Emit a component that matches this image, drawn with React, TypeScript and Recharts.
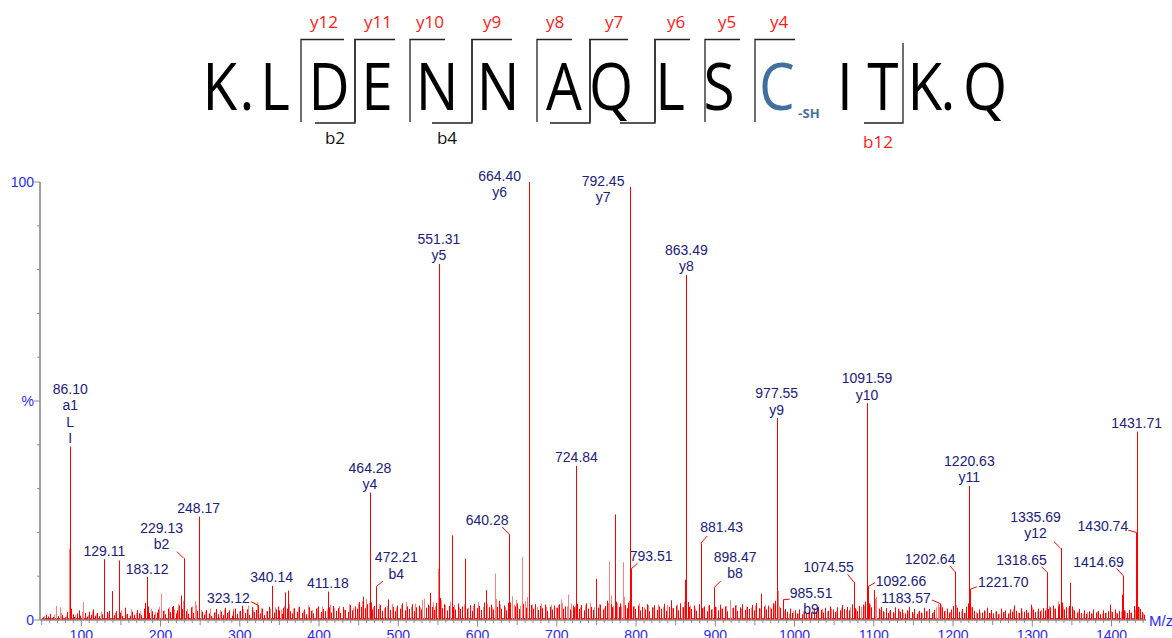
import { ComposedChart, Bar, Scatter, XAxis, YAxis, ReferenceArea } from 'recharts';

// annotated fragment peaks: [m/z, relative intensity %, ion names]
const labeledPeaks: [number, number, string[]][] = [
  [86.1, 39.6, ['a1', 'L', 'I']],
  [129.11, 13.9, []],
  [183.12, 9.8, []],
  [229.13, 14.1, ['b2']],
  [248.17, 23.6, []],
  [323.12, 3.4, []],
  [340.14, 7.8, []],
  [411.18, 6.5, []],
  [464.28, 29.1, ['y4']],
  [472.21, 7.6, ['b4']],
  [551.31, 81.3, ['y5']],
  [640.28, 19.6, []],
  [664.4, 100, ['y6']],
  [724.84, 35.2, []],
  [792.45, 98.9, ['y7']],
  [793.51, 11.6, []],
  [863.49, 78.8, ['y8']],
  [881.43, 17.5, []],
  [898.47, 7.4, ['b8']],
  [977.55, 46.1, ['y9']],
  [985.51, 4.6, ['b9']],
  [1074.55, 8.7, []],
  [1091.59, 49.5, ['y10']],
  [1092.66, 7.6, []],
  [1183.57, 3.8, []],
  [1202.64, 11.0, []],
  [1220.63, 30.6, ['y11']],
  [1221.7, 7.0, []],
  [1318.65, 10.9, []],
  [1335.69, 16.4, ['y12']],
  [1414.69, 10.1, []],
  [1430.74, 20.0, []],
  [1431.71, 43.0, []],
];

// unlabeled peaks that stand out of the noise
const strongPeaks: [number, number][] = [
  [138.6, 6.6], [147.1, 13.6], [225.8, 5.6], [357.5, 6.3], [360.8, 6.7], [456, 5.3],
  [487.5, 4.7], [540, 6.2], [567.6, 19.3], [584.7, 14.0], [611, 6.8], [749.5, 9.4],
  [773, 24.1], [862, 9.2], [958, 6.0], [1100, 6.8], [1348, 8.5], [1413, 5.8], [1432.6, 8.1],
];

const faintPeaks: [number, number][] = [
  [68.6, 3.2], [73.6, 2.9], [84.1, 16.3], [102, 4.1], [200, 6.0], [230.1, 5.8], [244, 4.3],
  [532.7, 4.9], [550.3, 11.7], [621.6, 10.6], [644, 5.4], [655.6, 14.4], [705.9, 4.7],
  [714, 5.8], [766, 13.4], [783, 13.2], [919, 4.5], [979, 6.6], [1103, 5.2], [1180.5, 3.7],
];

// chemical noise, solid red
const noiseLow: [number, number][] = [
  [52, 0.6], [55, 1.2], [58, 0.8], [61, 1.4], [64, 0.7], [71, 0.9], [76, 1.1], [79, 0.6],
  [82, 1.8], [85.1, 3.5], [87.1, 2.6], [89, 1.3], [91, 0.7], [94, 1.5], [97, 2.2], [99, 1.0],
  [104.5, 1.6], [107, 0.8], [110, 1.9], [112, 1.2], [115, 2.4], [117, 1.0], [120, 1.6],
  [123, 0.9], [126, 1.3], [132, 1.8], [135, 2.1], [141, 1.1], [144, 2.0], [149, 1.7],
  [152, 0.9], [155, 2.8], [158, 1.4], [161, 1.0], [164, 1.9], [167, 1.2], [170, 2.3],
  [173, 1.5], [176, 1.1], [179, 2.6], [181, 3.9], [184.1, 3.1], [186, 1.6], [189, 2.0],
  [192, 1.2], [195, 1.7], [197, 2.4], [203, 2.1], [206, 1.3], [209, 2.6], [212, 1.8],
  [214, 3.0], [216, 3.2], [219, 1.5], [221, 2.2], [223, 3.3], [227, 2.5], [232, 2.0],
  [235, 1.4], [238, 2.9], [241, 1.6], [246, 2.1], [249.1, 3.6], [252, 1.9], [255, 1.2],
  [258, 2.3], [261, 1.5], [264, 0.9], [267, 1.7], [270, 2.5], [273, 1.3], [276, 1.9],
  [279, 1.1], [281, 2.8], [284, 1.6], [287, 2.2], [290, 1.0], [292, 2.0], [294.6, 2.6],
  [297, 1.4], [300, 2.1],
];

const noiseMid: [number, number][] = [
  [303, 3.2], [306, 1.6], [309, 2.4], [312, 1.2], [315, 2.9], [318, 1.8], [321, 2.3],
  [325, 1.5], [328, 2.6], [331, 1.1], [334, 2.0], [337, 3.0], [341.1, 3.3], [343, 1.7],
  [346, 2.4], [348, 3.1], [350, 2.2], [353, 1.4], [355, 2.8], [359, 2.6], [363, 2.0],
  [366, 1.5], [369, 2.7], [372, 1.9], [375, 3.0], [378, 1.6], [381, 2.4], [384, 1.3],
  [387, 2.9], [390, 2.1], [393, 1.5], [396, 2.6], [399, 3.1], [402, 1.8], [405, 2.5],
  [408, 2.0], [412, 2.9], [415, 1.7], [418, 3.2], [421, 2.1], [424, 2.7], [427, 1.6],
  [430, 3.0], [433, 2.3], [436, 1.9], [439, 3.4], [442, 2.2], [445, 3.1], [448, 2.6],
  [450, 4.1], [453, 3.0], [458, 2.7], [460, 3.6], [465.3, 4.0], [467, 2.4], [470, 3.2],
  [474, 2.5], [477, 3.4], [480, 2.1], [483, 2.9], [490, 2.3], [493, 3.0], [496, 2.0],
  [499, 3.3], [502, 2.6], [505, 3.8], [508, 2.2], [511, 3.1], [514, 2.5], [517, 3.6],
  [520, 2.0], [523, 2.9], [526, 3.3], [529, 2.4], [535, 2.8], [537, 3.5], [542, 3.0],
  [545, 2.3], [548, 3.9], [552.3, 5.0], [555, 2.7], [558, 3.6], [561, 2.2], [564, 3.2],
  [569, 3.0], [572, 2.4], [575, 3.8], [578, 2.5], [581, 3.1], [587, 2.6], [590, 3.4],
  [593, 2.1], [596, 3.7], [599, 2.7], [602, 3.2], [605, 2.3], [608, 4.0], [614, 2.9],
  [617, 3.5], [619, 2.4], [624, 3.0], [627, 4.4], [630, 2.6], [633, 3.3], [636, 2.2],
  [638, 3.9], [641.3, 4.0], [647, 3.1], [650, 3.8], [652, 2.5], [658, 3.7], [661, 2.8],
  [665.4, 6.0], [667, 3.4], [670, 2.6], [673, 3.6], [676, 2.3], [679, 3.2], [682, 2.7],
  [685, 3.5], [688, 2.1], [691, 3.0], [694, 2.4], [697, 3.3], [700, 2.8], [703, 3.6],
  [708, 2.6], [711, 3.1], [717, 2.4], [720, 3.3], [722, 2.9], [725.8, 3.7], [728, 2.5],
  [731, 3.4], [734, 2.2], [737, 3.8], [740, 2.6], [743, 3.0], [746, 2.3], [752, 2.8],
  [755, 3.5], [758, 2.4], [761, 3.2], [763, 4.4], [768, 3.6], [770, 2.9], [775, 4.2],
  [778, 3.0], [780, 3.8], [786, 3.4], [788, 2.7], [790, 4.0], [796, 3.1], [799, 2.5],
];

const noiseHigh: [number, number][] = [
  [802, 3.3], [805, 2.2], [808, 3.0], [811, 2.4], [814, 3.6], [817, 2.0], [820, 2.9],
  [823, 3.4], [826, 2.3], [829, 3.1], [832, 2.6], [835, 3.7], [838, 2.1], [841, 3.0],
  [844, 4.5], [847, 2.7], [850, 3.3], [853, 2.2], [856, 3.8], [859, 2.9], [865, 4.1],
  [867, 3.0], [870, 2.5], [873, 3.3], [876, 2.1], [879, 3.6], [883, 2.7], [886, 3.1],
  [889, 2.0], [892, 3.4], [895, 2.4], [900, 3.0], [903, 2.2], [906, 3.5], [909, 2.6],
  [912, 3.1], [915, 2.0], [922, 2.8], [925, 3.3], [928, 2.1], [931, 2.9], [934, 3.6],
  [937, 2.3], [940, 3.0], [943, 2.5], [946, 3.4], [949, 2.2], [952, 3.9], [955, 2.7],
  [961, 3.1], [964, 2.4], [967, 3.3], [970, 2.6], [973, 3.8], [975, 4.4], [982, 2.8],
  [988, 2.5], [991, 1.9], [994, 2.6], [997, 1.6], [1000, 2.2], [1003, 1.5], [1006, 2.4],
  [1009, 1.3], [1012, 2.0], [1015, 1.6], [1018, 2.5], [1021, 1.8], [1024, 2.7], [1027, 2.0],
  [1030, 3.0], [1033, 2.3], [1036, 1.7], [1039, 2.8], [1042, 2.1], [1045, 3.1], [1048, 2.4],
  [1051, 1.8], [1054, 2.9], [1057, 2.2], [1060, 3.4], [1063, 2.5], [1066, 3.0], [1069, 2.2],
  [1072, 3.6], [1076, 2.7], [1079, 2.0], [1082, 3.2], [1086, 3.5], [1089, 4.2], [1094, 3.8],
  [1097, 2.9], [1106, 2.6], [1109, 3.0], [1112, 2.0], [1115, 2.7], [1118, 1.6], [1121, 2.3],
  [1124, 1.8], [1127, 2.9], [1130, 2.6], [1133, 1.9], [1136, 2.4], [1139, 1.5], [1142, 2.2],
  [1145, 3.0], [1148, 1.8], [1151, 2.5], [1154, 1.4], [1157, 2.1], [1160, 1.7], [1163, 2.8],
  [1166, 2.0], [1170, 2.5], [1173, 1.6], [1176, 2.3], [1186, 2.9], [1189, 2.0], [1192, 2.6],
  [1195, 1.7], [1198, 2.4], [1200, 3.2], [1205, 2.8], [1208, 1.9], [1211, 2.5], [1214, 1.6],
  [1217, 3.0], [1219, 3.8], [1224, 2.9], [1227, 2.1], [1230, 1.5], [1233, 2.4], [1236, 1.7],
  [1239, 2.2], [1242.5, 2.8], [1245, 1.6], [1248, 2.3], [1251, 1.5], [1254, 2.0], [1257, 1.3],
  [1260, 2.6], [1263, 1.8], [1266, 2.2], [1269, 1.5], [1272, 2.4], [1275, 1.9], [1277, 3.3],
  [1280, 2.1], [1283, 1.6], [1286, 2.7], [1289, 1.9], [1292, 2.3], [1295, 1.7], [1298, 3.5],
  [1301, 2.4], [1304, 1.8], [1307, 2.6], [1310, 2.0], [1313, 2.7], [1316, 2.2], [1320, 2.5],
  [1323, 2.9], [1326, 3.3], [1329, 2.6], [1332, 3.1], [1334, 3.6], [1337, 4.0], [1340, 2.4],
  [1343, 2.9], [1346, 3.2], [1350, 3.1], [1353, 2.2], [1356, 1.7], [1359, 2.5], [1362, 1.6],
  [1365, 2.2], [1368, 1.4], [1371, 2.0], [1374, 1.5], [1377, 2.4], [1380, 1.7], [1383, 2.1],
  [1386, 1.3], [1389, 2.2], [1392, 1.6], [1395, 2.0], [1398, 3.5], [1401, 1.8], [1404, 2.4],
  [1407, 1.5], [1410, 2.1], [1416, 2.2], [1419, 1.6], [1422, 2.3], [1425, 1.7], [1428, 3.2],
  [1433.5, 3.0], [1436, 2.5], [1438, 1.8], [1441, 1.2],
];

// chemical noise, pale red
const noiseFaint: [number, number][] = [
  [53.5, 0.9], [60, 1.0], [66, 1.3], [75, 1.6], [80.5, 1.0], [92.5, 1.2], [100.5, 1.8],
  [108.5, 1.1], [113.5, 2.0], [118.5, 1.4], [124.5, 1.9], [133.5, 1.5], [142.5, 1.7],
  [150.5, 2.2], [156.5, 1.3], [162.5, 2.4], [168.5, 1.6], [174.5, 2.0], [180, 3.4],
  [187.5, 2.6], [193.5, 1.9], [198.5, 3.0], [204.5, 2.2], [210.5, 2.9], [217.5, 2.4],
  [222, 3.6], [228, 4.4], [233.5, 2.5], [239.5, 3.1], [245, 3.4], [250.5, 2.3], [256.5, 1.9],
  [262.5, 2.6], [268.5, 1.8], [274.5, 2.3], [280, 2.4], [285.5, 1.8], [291, 2.6], [298.5, 2.0],
  [304.5, 2.5], [310.5, 3.3], [316.5, 2.2], [322, 4.1], [326.5, 2.8], [332.5, 2.0],
  [338.5, 2.6], [344.5, 2.9], [351.5, 2.4], [356, 3.2], [362, 3.6], [367.5, 2.5], [373.5, 2.9],
  [379.5, 2.1], [385.5, 3.4], [391.5, 2.3], [397.5, 2.8], [403.5, 3.1], [409.5, 2.4],
  [413.5, 3.5], [419.5, 2.7], [425.5, 3.2], [431.5, 2.4], [437.5, 3.6], [443.5, 2.8],
  [449, 3.7], [454.5, 4.3], [459, 4.8], [463, 3.9], [468.5, 2.9], [475.5, 3.6], [481.5, 2.7],
  [485.5, 3.2], [491.5, 3.7], [497.5, 2.8], [503.5, 3.4], [509.5, 4.1], [515.5, 3.0],
  [521.5, 3.7], [527.5, 2.9], [530.5, 4.6], [538.5, 3.2], [543.5, 4.0], [546.5, 3.1],
  [553.5, 4.5], [559.5, 3.5], [565.5, 4.2], [570.5, 3.4], [576.5, 2.9], [582.5, 3.6],
  [588.5, 2.8], [594.5, 3.3], [600.5, 4.1], [606.5, 3.0], [612.5, 3.7], [618.5, 2.9],
  [623, 4.8], [628.5, 3.6], [634.5, 2.9], [639.5, 4.3], [645.5, 3.5], [648.5, 4.6],
  [653.5, 3.2], [659.5, 4.3], [663, 5.2], [668.5, 3.5], [674.5, 3.0], [680.5, 3.8],
  [686.5, 3.1], [692.5, 3.5], [698.5, 2.8], [701.5, 3.4], [707, 3.9], [712.5, 3.1],
  [718.5, 3.8], [723.5, 3.3], [729.5, 2.9], [735.5, 3.4], [741.5, 3.9], [747.5, 2.9],
  [753.5, 3.6], [759.5, 2.7], [764.5, 3.9], [769, 5.6], [771.5, 3.2], [776.5, 3.8],
  [781.5, 3.1], [785, 5.3], [791, 4.4], [797.5, 3.2], [803.5, 3.8], [809.5, 2.9],
  [815.5, 3.4], [821.5, 2.8], [827.5, 3.6], [833.5, 3.0], [839.5, 3.4], [845.5, 2.7],
  [851.5, 3.5], [857.5, 3.0], [860.5, 4.2], [868.5, 3.3], [874.5, 2.6], [880, 3.5],
  [884.5, 2.9], [890.5, 3.3], [896.5, 2.5], [901.5, 3.0], [907.5, 2.6], [913.5, 3.2],
  [920.5, 2.7], [926.5, 3.4], [932.5, 2.6], [938.5, 3.1], [944.5, 2.8], [950.5, 3.3],
  [956.5, 2.6], [962.5, 3.5], [968.5, 2.9], [974, 3.6], [980.5, 3.1], [986.5, 2.0],
  [992.5, 1.5], [998.5, 2.1], [1004.5, 1.4], [1010.5, 2.0], [1016.5, 1.5], [1022.5, 2.2],
  [1028.5, 1.7], [1034.5, 2.5], [1040.5, 2.0], [1046.5, 2.6], [1052.5, 2.0], [1058.5, 2.8],
  [1064.5, 2.3], [1070.5, 2.9], [1077.5, 2.4], [1083.5, 3.0], [1088, 3.3], [1095.5, 3.5],
  [1101.5, 4.8], [1107.5, 2.3], [1113.5, 1.8], [1119.5, 2.0], [1125.5, 1.5], [1131.5, 2.2],
  [1137.5, 1.6], [1143.5, 2.0], [1149.5, 1.4], [1155.5, 1.9], [1161.5, 1.5], [1167.5, 2.1],
  [1174.5, 1.8], [1178, 2.9], [1182, 3.0], [1185, 3.4], [1190.5, 2.1], [1196.5, 1.8],
  [1203.5, 3.4], [1209.5, 2.0], [1215.5, 1.7], [1222.5, 3.1], [1228.5, 1.9], [1234.5, 1.7],
  [1240.5, 2.0], [1246.5, 1.6], [1252.5, 1.9], [1258.5, 1.4], [1264.5, 1.8], [1270.5, 1.5],
  [1276, 2.5], [1281.5, 1.7], [1287.5, 2.0], [1293.5, 1.6], [1299.5, 2.9], [1305.5, 2.0],
  [1311.5, 2.3], [1317.5, 2.7], [1321.5, 3.2], [1327.5, 2.6], [1333, 4.3], [1338.5, 3.0],
  [1344.5, 2.7], [1351.5, 2.4], [1357.5, 1.9], [1363.5, 1.5], [1369.5, 1.8], [1375.5, 1.4],
  [1381.5, 1.9], [1387.5, 1.4], [1393.5, 1.7], [1399.5, 2.0], [1405.5, 1.6], [1411.5, 1.9],
  [1417.5, 2.2], [1423.5, 1.6], [1429.5, 2.4], [1434.5, 2.9], [1439.5, 1.5],
];

const noiseFloor = 0.45;

const mzLabels = [100, 200, 300, 400, 500, 600, 700, 800, 900, 1000, 1100, 1200, 1300, 1400];
const mzTicks = Array.from({ length: 140 }, (_, i) => 50 + i * 10);
const pctTicks = [0, 10, 20, 30, 40, 50, 60, 70, 80, 90, 100];
const pctLabels: Record<number, string> = { 0: '0', 50: '%', 100: '100' };

// peptide header
const residues = ['K', '.', 'L', 'D', 'E', 'N', 'N', 'A', 'Q', 'L', 'S', 'C', 'I', 'T', 'K', '.', 'Q'];
const residueX = [220, 247, 275, 329, 377, 437, 498, 564, 611, 670, 719, 777, 845, 883, 925, 948, 985];
const yIons = ['y12', 'y11', 'y10', 'y9', 'y8', 'y7', 'y6', 'y5', 'y4'];
const yIonX = [324, 378, 430, 492, 555, 614, 676, 727, 779];
const yBrackets: [number, number][] = [
  [301, 344], [355, 395], [410, 445], [472, 512], [537, 572], [590, 628], [655, 690], [705, 740], [755, 795],
];
const bBrackets: [number, number, number][] = [
  [315, 355, 39], [432, 472, 39], [550, 590, 39], [620, 655, 39], [864, 903, 43],
];
const bIons: [string, number, number, string][] = [
  ['b2', 335, 144, '#111'], ['b4', 447, 144, '#111'], ['b12', 878, 148, '#ff1a1a'],
];

// label offsets (px) from the peak apex: text centre dx, first line dy, leader start
const labelLayout: Record<string, { dx: number; dy: number; lead?: [number, number] }> = {
  '229.13': { dx: -22, dy: -30.6, lead: [-6.6, -6.6] },
  '323.12': { dx: -29.7, dy: -6.7, lead: [-7, -3.3] },
  '472.21': { dx: 20, dy: -29.4, lead: [6.7, -5.7] },
  '640.28': { dx: -22.3, dy: -14.3, lead: [-7.3, -7] },
  '664.40': { dx: -29, dy: -6 },
  '792.45': { dx: -27, dy: -6 },
  '793.51': { dx: 20.3, dy: -13.3, lead: [6.6, -6] },
  '881.43': { dx: 21, dy: -16, lead: [6.7, -7.3] },
  '898.47': { dx: 21, dy: -31, lead: [6.7, -6.7] },
  '985.51': { dx: 28, dy: -6.7, lead: [6.7, -0.7] },
  '1074.55': { dx: -25, dy: -14.4, lead: [-6, -7.7] },
  '1092.66': { dx: 33, dy: -6, lead: [7, -4] },
  '1183.57': { dx: -34, dy: -5, lead: [-8, -3.3] },
  '1202.64': { dx: -25, dy: -13, lead: [-5, -5.7] },
  '1221.70': { dx: 33, dy: -7, lead: [6.7, -2.6] },
  '1318.65': { dx: -25.6, dy: -12, lead: [-5.6, -5.6] },
  '1335.69': { dx: -25, dy: -31.6, lead: [-6.7, -6.6] },
  '1414.69': { dx: -24.6, dy: -14, lead: [-6.6, -7.4] },
  '1430.74': { dx: -33, dy: -6, lead: [-7.7, -2.3] },
};

const RED = '#ff0000';
const PALE = '#ff8080';
const AXIS = '#8a8a8a';
const BLUE = '#2a2aff';
const NAVY = '#20207a';
const FONT = "'Liberation Sans', Arial, sans-serif";

const rows = [
  ...noiseFaint.map(([mz, v]) => ({ mz, intensity: v, faint: true })),
  ...noiseLow.map(([mz, v]) => ({ mz, intensity: v, faint: false })),
  ...noiseMid.map(([mz, v]) => ({ mz, intensity: v, faint: false })),
  ...noiseHigh.map(([mz, v]) => ({ mz, intensity: v, faint: false })),
  ...faintPeaks.map(([mz, v]) => ({ mz, intensity: v, faint: true })),
  ...strongPeaks.map(([mz, v]) => ({ mz, intensity: v, faint: false })),
  ...labeledPeaks.map(([mz, v]) => ({ mz, intensity: v, faint: false })),
];

const annotations = labeledPeaks.map(([mz, v, ions]) => ({
  mz,
  intensity: v,
  lines: [mz.toFixed(2), ...ions],
}));

const PeakLine = (p: any) => {
  const cx = Math.round(p.x + p.width / 2) + 0.5;
  return <line x1={cx} x2={cx} y1={p.y} y2={p.y + p.height} stroke={p.payload.faint ? PALE : RED} strokeWidth={1} />;
};

const PeakLabel = (p: any) => {
  const { cx, cy, payload } = p;
  const key = payload.mz.toFixed(2);
  const lay = labelLayout[key];
  const lh = 16.3;
  const n = payload.lines.length;
  const dx = lay ? lay.dx : 0;
  const top = lay ? cy + lay.dy : cy - 8.5 - (n - 1) * lh;
  return (
    <g>
      {lay && lay.lead && (
        <line x1={cx + lay.lead[0]} y1={cy + lay.lead[1]} x2={cx} y2={cy} stroke={RED} strokeWidth={1} />
      )}
      {payload.lines.map((t: string, i: number) => (
        <text key={i} x={cx + dx} y={top + i * lh + 5} textAnchor="middle" fontSize={14} fontFamily={FONT} fill={NAVY}>
          {t}
        </text>
      ))}
    </g>
  );
};

const MzTick = (p: any) => {
  const v = p.payload.value;
  const major = mzLabels.includes(v);
  const len = major ? 6.5 : v % 50 === 0 ? 5 : 3;
  return (
    <g>
      <line x1={p.x} x2={p.x} y1={p.y} y2={p.y + len} stroke={AXIS} strokeWidth={1} />
      {major && (
        <text x={p.x} y={p.y + 20} textAnchor="middle" fontSize={14} fontFamily={FONT} fill={BLUE}>
          {v}
        </text>
      )}
    </g>
  );
};

const PctTick = (p: any) => {
  const v = p.payload.value;
  const label = pctLabels[v];
  const len = label ? 6 : 3;
  return (
    <g>
      <line x1={p.x - len} x2={p.x} y1={p.y} y2={p.y} stroke={AXIS} strokeWidth={1} />
      {label && (
        <text x={p.x - 6} y={p.y + 5} textAnchor="end" fontSize={14} fontFamily={FONT} fill={BLUE}>
          {label}
        </text>
      )}
    </g>
  );
};

function Header() {
  const seqFont = "'Open Sans', sans-serif";
  return (
    <svg width={1172} height={638} style={{ position: 'absolute', left: 0, top: 0, pointerEvents: 'none' }}>
      {residues.map((r, i) => (
        <g key={i} transform={`translate(${residueX[i]},110) scale(0.86,1)`}>
          <text x={0} y={0} textAnchor="middle" fontSize={66} fontFamily={seqFont} fill={r === 'C' ? '#41709f' : '#000'}>
            {r}
          </text>
        </g>
      ))}
      <text x={809} y={118} textAnchor="middle" fontSize={13} fontWeight="bold" fontFamily={seqFont} fill="#41709f">
        -SH
      </text>
      {yBrackets.map(([a, b], i) => (
        <path key={i} d={`M${a},122 V39.5 H${b}`} fill="none" stroke="#222" strokeWidth={1.3} />
      ))}
      {bBrackets.map(([a, b, top], i) => (
        <path key={i} d={`M${a},123 H${b} V${top}`} fill="none" stroke="#222" strokeWidth={1.3} />
      ))}
      {yIons.map((t, i) => (
        <text key={t} x={yIonX[i]} y={28} textAnchor="middle" fontSize={17} fontFamily={seqFont} fill="#ff1a1a">
          {t}
        </text>
      ))}
      {bIons.map(([t, x, y, c]) => (
        <text key={t} x={x} y={y} textAnchor="middle" fontSize={17} fontFamily={seqFont} fill={c}>
          {t}
        </text>
      ))}
      <text x={1149} y={626} fontSize={15} fontFamily={FONT} fill={BLUE}>
        M/z
      </text>
    </svg>
  );
}

export default function App() {
  return (
    <div style={{ position: 'fixed', left: 0, top: 0, width: 1172, height: 638, background: '#fff' }}>
      <ComposedChart
        width={1172}
        height={638}
        data={rows}
        margin={{ top: 182, right: 26, bottom: 0, left: 0 }}
        style={{ position: 'absolute', left: 0, top: 0, overflow: 'visible' }}
      >
        <XAxis
          dataKey="mz"
          type="number"
          domain={[47.9, 1443.5]}
          ticks={mzTicks}
          interval={0}
          tick={<MzTick />}
          tickLine={false}
          tickSize={0}
          tickMargin={0}
          height={18}
          axisLine={{ stroke: AXIS, strokeWidth: 1.6 }}
        />
        <YAxis
          type="number"
          domain={[0, 100]}
          ticks={pctTicks}
          interval={0}
          tick={<PctTick />}
          tickLine={false}
          tickSize={0}
          tickMargin={0}
          width={40}
          axisLine={{ stroke: AXIS, strokeWidth: 1.6 }}
        />
        <ReferenceArea x1={50} x2={1441} y1={0} y2={noiseFloor} fill={RED} fillOpacity={0.85} stroke="none" />
        <Bar dataKey="intensity" barSize={1} shape={<PeakLine />} isAnimationActive={false} />
        <Scatter data={annotations} dataKey="intensity" shape={<PeakLabel />} isAnimationActive={false} />
      </ComposedChart>
      <Header />
    </div>
  );
}
